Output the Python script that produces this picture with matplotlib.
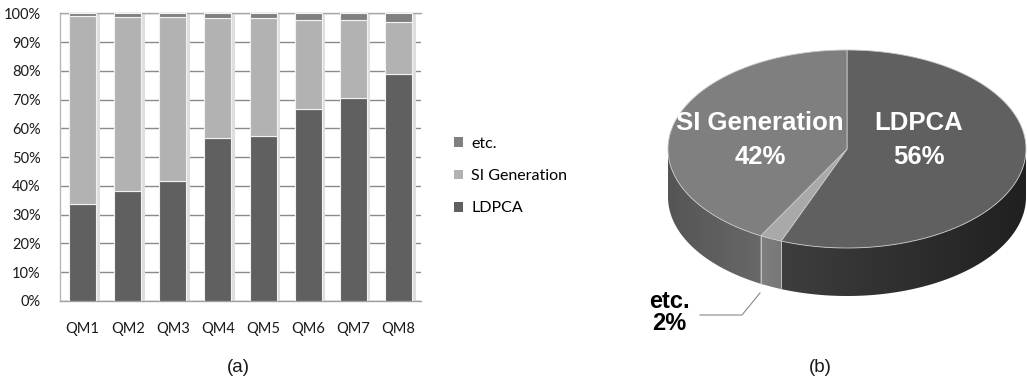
import numpy as np
import matplotlib
matplotlib.use("Agg")
import matplotlib.pyplot as plt
from matplotlib.patches import Polygon
from matplotlib.colors import LinearSegmentedColormap

# ---- data -------------------------------------------------------------
categories = ["QM1", "QM2", "QM3", "QM4", "QM5", "QM6", "QM7", "QM8"]
ldpca = [33.8, 38.2, 41.7, 56.5, 57.5, 66.7, 70.7, 78.8]
si_generation = [65.3, 60.4, 56.9, 41.8, 40.8, 31.1, 27.0, 18.1]
etc_share = [0.9, 1.4, 1.4, 1.7, 1.7, 2.2, 2.3, 3.1]
y_ticks = [0, 10, 20, 30, 40, 50, 60, 70, 80, 90, 100]
y_tick_labels = [f"{v}%" for v in y_ticks]

pie_labels = ["LDPCA", "etc.", "SI Generation"]
pie_values = [56, 2, 42]

# ---- style --------------------------------------------------------------
C_LDPCA = "#606060"
C_SI = "#b2b2b2"
C_ETC = "#808080"
UI_FONT = ["Lato", "DejaVu Sans"]

W, H = 1027, 381
fig = plt.figure(figsize=(W / 100, H / 100), dpi=100)
fig.patch.set_facecolor("white")

# ---- (a) stacked 100% columns -----------------------------------------
ax = fig.add_axes([60 / W, (H - 301) / H, 361 / W, (301 - 13.3) / H])
x = np.arange(len(categories))
width = 0.6

totals = np.array(ldpca) + np.array(si_generation) + np.array(etc_share)
# soft drop shadow behind each column
ax.bar(x + 0.05, totals, width=width + 0.06, color="#dedede", zorder=2,
       linewidth=0)
ax.bar(x, ldpca, width=width, color=C_LDPCA, edgecolor="#f2f2f2",
       linewidth=0.8, zorder=3, label="LDPCA")
ax.bar(x, si_generation, width=width, bottom=ldpca, color=C_SI,
       edgecolor="#f2f2f2", linewidth=0.8, zorder=3, label="SI Generation")
ax.bar(x, etc_share, width=width, bottom=np.array(ldpca) + np.array(si_generation),
       color=C_ETC, edgecolor="#f2f2f2", linewidth=0.8, zorder=3, label="etc.")

ax.set_xlim(-0.5, len(categories) - 0.5)
ax.set_ylim(0, 100)
ax.set_yticks(y_ticks)
ax.set_yticklabels(y_tick_labels)
ax.set_xticks(x)
ax.set_xticklabels(categories)
ax.tick_params(axis="both", length=0, labelsize=10.5, colors="#1a1a1a")
ax.tick_params(axis="y", pad=14)
ax.tick_params(axis="x", pad=15)
for lab in ax.get_xticklabels() + ax.get_yticklabels():
    lab.set_family(UI_FONT)
ax.yaxis.grid(True, color="#8a8a8a", linewidth=1.0, zorder=1)
ax.set_axisbelow(True)
ax.spines["right"].set_visible(False)
ax.spines["top"].set_color("#a8a8a8")
ax.spines["left"].set_color("#b8b8b8")
ax.spines["bottom"].set_color("#a0a0a0")
for s in ax.spines.values():
    s.set_linewidth(1.0)

handles, labels = ax.get_legend_handles_labels()
leg = fig.legend(handles[::-1], labels[::-1], loc="center left",
                 bbox_to_anchor=(440 / W, 1 - 176 / H), frameon=False,
                 prop={"family": UI_FONT, "size": 11.5},
                 handlelength=0.55, handleheight=0.55, handletextpad=0.5,
                 labelspacing=1.15)
for h in leg.legend_handles:
    h.set_edgecolor("none")

fig.text(238 / W, 1 - 368 / H, "(a)", ha="center", va="center",
         fontsize=13.5, family=["Liberation Sans", "DejaVu Sans"], color="#1a1a1a")

# ---- (b) 3-D style pie ---------------------------------------------------
pa = fig.add_axes([600 / W, 0, (W - 600) / W, 1])
pa.axis("off")

cx, cy, ra, rb, depth = 847.0, 149.0, 179.0, 99.0, 48.0
top_colors = ["#606060", "#a9a9a9", "#7f7f7f"]
side_left = ["#3e3e3e", "#7e7e7e", "#555555"]
side_right = ["#202020", "#787878", "#686868"]


def rim(t_deg):
    t = np.radians(t_deg)
    return cx + ra * np.cos(t), cy - rb * np.sin(t)


fr = np.array(pie_values, dtype=float) / sum(pie_values)
ends = 90 - 360 * np.cumsum(fr)
starts = np.concatenate([[90.0], ends[:-1]])

# side walls (front half only), shaded left-to-right
for i in range(len(pie_values)):
    hi, lo = starts[i], ends[i]
    s_lo, s_hi = max(lo, -180.0), min(hi, 0.0)
    if s_hi <= s_lo:
        continue
    ts = np.linspace(s_lo, s_hi, 200)
    xs, ys = rim(ts)
    pts = list(zip(xs, ys)) + list(zip(xs[::-1], ys[::-1] + depth))
    wall = Polygon(pts, closed=True, facecolor="none", edgecolor="none",
                   zorder=2)
    pa.add_patch(wall)
    cmap = LinearSegmentedColormap.from_list(f"wall{i}",
                                             [side_left[i], side_right[i]])
    grad = np.linspace(0, 1, 256).reshape(1, -1)
    im = pa.imshow(grad, cmap=cmap, aspect="auto", zorder=2,
                   extent=(xs.min(), xs.max(), ys.max() + depth, ys.min()),
                   interpolation="bilinear")
    im.set_clip_path(wall)
    for tb in (s_lo, s_hi):
        if -180 < tb < 0:
            xb, yb = rim(tb)
            pa.plot([xb, xb], [yb, yb + depth], color="#c4c4c4", lw=0.6,
                    zorder=3)

# top faces
for i in range(len(pie_values)):
    ts = np.linspace(starts[i], ends[i], 200)
    xs, ys = rim(ts)
    pts = [(cx, cy)] + list(zip(xs, ys))
    pa.add_patch(Polygon(pts, closed=True, facecolor=top_colors[i],
                         edgecolor="#c8c8c8", linewidth=0.6, zorder=4))

LABEL_FONT = ["Liberation Sans", "DejaVu Sans"]
lab_kw = dict(ha="center", va="center", fontweight="bold", family=LABEL_FONT,
              zorder=6)
pa.text(760, 123, "SI Generation", color="white", fontsize=18.5, **lab_kw)
pa.text(760, 157, f"{pie_values[2]}%", color="white", fontsize=18.5, **lab_kw)
pa.text(919, 123, "LDPCA", color="white", fontsize=18.5, **lab_kw)
pa.text(919, 157, f"{pie_values[0]}%", color="white", fontsize=18.5, **lab_kw)
pa.text(669, 302, "etc.", color="black", fontsize=17, **lab_kw)
pa.text(669, 324, f"{pie_values[1]}%", color="black", fontsize=17, **lab_kw)
pa.plot([700, 742, 760], [315, 315, 293], color="#8a8a8a", lw=0.8, zorder=5)

pa.set_xlim(600, W)
pa.set_ylim(H, 0)

fig.text(820 / W, 1 - 368 / H, "(b)", ha="center", va="center",
         fontsize=13.5, family=["Liberation Sans", "DejaVu Sans"], color="#1a1a1a")

fig.savefig("out.png", dpi=100, facecolor="white")
